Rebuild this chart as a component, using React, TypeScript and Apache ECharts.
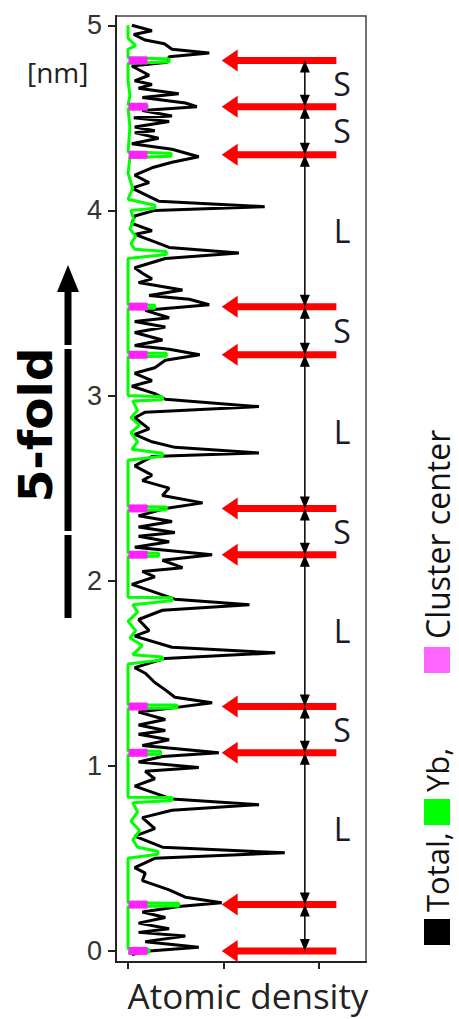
import React, { useEffect, useRef } from 'react';
import * as echarts from 'echarts';

// ---------- data ----------
const yTicks = [0, 1, 2, 3, 4, 5];
const xTicks = [0, 1, 2];
// heights (nm) of cluster centres (pink marks / red arrows)
const clusterHeights = [0, 0.25, 1.07, 1.32, 2.14, 2.39, 3.22, 3.48, 4.3, 4.56, 4.81];
// labels of the spacing between consecutive cluster centres
const spacingLabels = ['', 'L', 'S', 'L', 'S', 'L', 'S', 'L', 'S', 'S'];

// Total atomic density profile: [density, height(nm)]
const totalProfile: [number, number][] = [
  [0.04, 5.0], [0.25, 4.97], [0.06, 4.95], [0.18, 4.92], [0.38, 4.9], [0.46, 4.87], [0.85, 4.85], [0.43, 4.83],
  [0.41, 4.8], [0.04, 4.78], [0.22, 4.73], [0.07, 4.7], [0.25, 4.68], [0.11, 4.66], [0.53, 4.63], [0.15, 4.61],
  [0.6, 4.58], [0.72, 4.56], [0.15, 4.54], [0.46, 4.51], [0.06, 4.5], [0.43, 4.48], [0.07, 4.45], [0.28, 4.43],
  [0.07, 4.42], [0.32, 4.39], [0.04, 4.36], [0.46, 4.33], [0.74, 4.29], [0.46, 4.26], [0.25, 4.23], [0.07, 4.19],
  [0.22, 4.15], [0.04, 4.12], [0.32, 4.05], [1.43, 4.02], [0.28, 4.0], [0.07, 3.97], [0.04, 3.93], [0.25, 3.89],
  [0.07, 3.87], [0.28, 3.83], [0.43, 3.8], [1.16, 3.77], [0.39, 3.74], [0.07, 3.69], [0.15, 3.66], [0.25, 3.63],
  [0.11, 3.61], [0.57, 3.57], [0.22, 3.54], [0.64, 3.52], [0.85, 3.49], [0.18, 3.46], [0.43, 3.42], [0.07, 3.4],
  [0.39, 3.37], [0.07, 3.34], [0.36, 3.3], [0.07, 3.27], [0.43, 3.25], [0.75, 3.22], [0.39, 3.19], [0.28, 3.15],
  [0.07, 3.12], [0.25, 3.08], [0.04, 3.05], [0.28, 3.01], [0.39, 2.98], [1.37, 2.94], [0.18, 2.91], [0.07, 2.88],
  [0.22, 2.82], [0.07, 2.79], [0.25, 2.75], [0.49, 2.72], [1.37, 2.69], [0.25, 2.67], [0.07, 2.62], [0.25, 2.57],
  [0.15, 2.54], [0.43, 2.5], [0.36, 2.46], [0.78, 2.42], [0.39, 2.39], [0.11, 2.35], [0.46, 2.32], [0.11, 2.29],
  [0.49, 2.26], [0.11, 2.24], [0.43, 2.21], [0.07, 2.18], [0.88, 2.14], [0.36, 2.11], [0.57, 2.07], [0.15, 2.05],
  [0.28, 2.02], [0.04, 1.98], [0.49, 1.9], [1.27, 1.87], [0.36, 1.84], [0.11, 1.79], [0.22, 1.73], [0.07, 1.7],
  [0.46, 1.64], [1.54, 1.61], [0.39, 1.58], [0.07, 1.53], [0.18, 1.5], [0.28, 1.45], [0.39, 1.41], [0.49, 1.37],
  [0.88, 1.34], [0.43, 1.31], [0.11, 1.29], [0.39, 1.25], [0.11, 1.22], [0.39, 1.19], [0.11, 1.17], [0.43, 1.14],
  [0.15, 1.11], [0.95, 1.07], [0.36, 1.05], [0.11, 1.02], [0.74, 0.99], [0.18, 0.97], [0.28, 0.93], [0.07, 0.89],
  [0.46, 0.82], [1.37, 0.79], [0.46, 0.76], [0.15, 0.72], [0.28, 0.66], [0.07, 0.62], [0.36, 0.56], [1.64, 0.53],
  [0.28, 0.5], [0.07, 0.45], [0.18, 0.42], [0.15, 0.38], [0.43, 0.33], [0.6, 0.29], [0.98, 0.26], [0.53, 0.24],
  [0.15, 0.21], [0.39, 0.18], [0.11, 0.15], [0.43, 0.12], [0.11, 0.1], [0.6, 0.08], [0.18, 0.05], [0.74, 0.02],
  [0.22, 0.0], [0.04, -0.02],
];

// Yb density profile: [density, height(nm)]
const ybProfile: [number, number][] = [
  [0.0, 5.0], [0.0, 4.93], [0.08, 4.89], [0.0, 4.87], [0.0, 4.825], [0.43, 4.818], [0.43, 4.802], [0.0, 4.795],
  [0.0, 4.7], [0.02, 4.62], [0.0, 4.57], [0.2, 4.568], [0.2, 4.552], [0.0, 4.55], [0.02, 4.45], [0.0, 4.315],
  [0.45, 4.308], [0.45, 4.292], [0.02, 4.285], [0.0, 4.2], [0.05, 4.12], [0.0, 4.06], [0.28, 4.028], [0.28, 4.012],
  [0.03, 4.0], [0.06, 3.95], [0.02, 3.9], [0.08, 3.86], [0.03, 3.82], [0.07, 3.79], [0.4, 3.778], [0.4, 3.762],
  [0.0, 3.74], [0.0, 3.6], [0.0, 3.49], [0.28, 3.488], [0.28, 3.472], [0.0, 3.47], [0.0, 3.23], [0.4, 3.228],
  [0.4, 3.212], [0.0, 3.21], [0.0, 3.0], [0.36, 2.993], [0.36, 2.977], [0.05, 2.97], [0.1, 2.92], [0.03, 2.88],
  [0.12, 2.84], [0.03, 2.8], [0.1, 2.75], [0.04, 2.71], [0.36, 2.688], [0.36, 2.672], [0.0, 2.65], [0.0, 2.4],
  [0.4, 2.398], [0.4, 2.382], [0.0, 2.38], [0.0, 2.15], [0.32, 2.148], [0.32, 2.132], [0.0, 2.13], [0.0, 1.91],
  [0.46, 1.908], [0.46, 1.892], [0.05, 1.87], [0.1, 1.83], [0.0, 1.78], [0.08, 1.73], [0.02, 1.69], [0.15, 1.65],
  [0.05, 1.6], [0.36, 1.588], [0.36, 1.572], [0.0, 1.55], [0.0, 1.33], [0.51, 1.328], [0.51, 1.312], [0.0, 1.31],
  [0.0, 1.08], [0.34, 1.078], [0.34, 1.062], [0.0, 1.06], [0.0, 0.83], [0.46, 0.828], [0.46, 0.812], [0.05, 0.8],
  [0.1, 0.75], [0.03, 0.7], [0.12, 0.65], [0.05, 0.6], [0.1, 0.56], [0.31, 0.538], [0.31, 0.522], [0.0, 0.5],
  [0.0, 0.26], [0.53, 0.258], [0.53, 0.242], [0.0, 0.24], [0.0, 0.01], [0.22, 0.008], [0.22, -0.008], [0.0, -0.01],
];

// ---------- layout constants ----------
const ARROW_TAIL_X = 2.18;
const ARROW_TIP_X = 0.98;
const SPAN_X = 1.85;
const SPAN_LABEL_X = 2.24;
const CLUSTER_MARK_X = 0.105;

const option: any = {
  animation: false,
  backgroundColor: '#ffffff',
  grid: {
    left: 116, right: 93, top: 16, bottom: 57,
    show: true, borderColor: '#444', borderWidth: 1.5, backgroundColor: 'transparent',
  },
  xAxis: {
    type: 'value', min: -0.126, max: 2.49,
    splitLine: { show: false },
    axisLine: { show: true, onZero: false, lineStyle: { color: '#222', width: 2 } },
    axisTick: { show: true, length: 7, lineStyle: { color: '#222', width: 2 }, customValues: xTicks },
    axisLabel: { show: false },
    name: 'Atomic density', nameLocation: 'middle', nameGap: 14,
    nameTextStyle: { fontSize: 35, lineHeight: 38, fontFamily: 'Open Sans', color: '#222', verticalAlign: 'top', padding: [0, 0, 0, 14] },
  },
  yAxis: {
    type: 'value', min: -0.06, max: 5.05,
    splitLine: { show: false },
    axisLine: { show: true, onZero: false, lineStyle: { color: '#222', width: 2 } },
    axisTick: { show: true, length: 8, lineStyle: { color: '#222', width: 2 }, customValues: yTicks },
    axisLabel: { customValues: yTicks, fontSize: 27, fontFamily: 'Liberation Sans', color: '#333', margin: 14 },
  },
  series: [
    {
      type: 'line', data: totalProfile, showSymbol: false, symbol: 'none', clip: false,
      lineStyle: { color: '#000', width: 3 }, z: 2,
    },
    {
      type: 'line', data: ybProfile, showSymbol: false, symbol: 'none', clip: false,
      lineStyle: { color: '#00ff00', width: 3 }, z: 3,
    },
    {
      type: 'scatter', data: clusterHeights.map((h) => [CLUSTER_MARK_X, h]),
      symbol: 'rect', symbolSize: [19, 8], itemStyle: { color: '#ff22ff', opacity: 1 }, z: 4,
    },
    {
      type: 'custom', z: 5,
      data: clusterHeights.map((h) => [ARROW_TAIL_X, h, ARROW_TIP_X]),
      encode: { x: [0, 2], y: 1 },
      renderItem: (params: any, api: any) => {
        const h = api.value(1);
        const tail = api.coord([api.value(0), h]);
        const tip = api.coord([api.value(2), h]);
        const headL = 16, headH = 11;
        return {
          type: 'group',
          children: [
            { type: 'line', shape: { x1: tip[0] + headL - 1, y1: tip[1], x2: tail[0], y2: tail[1] }, style: { stroke: '#ff0000', lineWidth: 7 } },
            { type: 'polygon', shape: { points: [[tip[0], tip[1]], [tip[0] + headL, tip[1] - headH], [tip[0] + headL, tip[1] + headH]] }, style: { fill: '#ff0000' } },
          ],
        };
      },
    },
    {
      type: 'custom', z: 6,
      data: clusterHeights.slice(0, -1).map((h, i) => [SPAN_X, h, clusterHeights[i + 1], SPAN_LABEL_X, i]),
      encode: { x: [0, 3], y: [1, 2] },
      renderItem: (params: any, api: any) => {
        const lo = api.coord([api.value(0), api.value(1)]);
        const hi = api.coord([api.value(0), api.value(2)]);
        const lab = api.coord([api.value(3), (api.value(1) + api.value(2)) / 2]);
        const label = spacingLabels[api.value(4)];
        const w = 5, th = 12;
        const x = lo[0];
        return {
          type: 'group',
          children: [
            { type: 'line', shape: { x1: x, y1: hi[1] + 4, x2: x, y2: lo[1] - 4 }, style: { stroke: '#000', lineWidth: 1.5 } },
            { type: 'polygon', shape: { points: [[x, hi[1]], [x - w, hi[1] + th], [x + w, hi[1] + th]] }, style: { fill: '#000' } },
            { type: 'polygon', shape: { points: [[x, lo[1]], [x - w, lo[1] - th], [x + w, lo[1] - th]] }, style: { fill: '#000' } },
            { type: 'text', x: lab[0], y: lab[1], style: { text: label, fontSize: 32, fontFamily: 'Open Sans', fill: '#1a1a2a', align: 'center', verticalAlign: 'middle' } },
          ],
        };
      },
    },
  ],
  graphic: [
    { type: 'text', left: 27, top: 58, style: { text: '[nm]', fontSize: 28, fontFamily: 'Open Sans', fill: '#222' } },
    // 5-fold arrow
    { type: 'line', shape: { x1: 68, y1: 290, x2: 68, y2: 345 }, style: { stroke: '#000', lineWidth: 7 } },
    { type: 'line', shape: { x1: 68, y1: 349, x2: 68, y2: 531 }, style: { stroke: '#000', lineWidth: 7 } },
    { type: 'line', shape: { x1: 68, y1: 535, x2: 68, y2: 618 }, style: { stroke: '#000', lineWidth: 7 } },
    { type: 'polygon', shape: { points: [[68, 265], [57, 292], [79, 292]] }, style: { fill: '#000' } },
    {
      type: 'text', x: 35, y: 425, rotation: Math.PI / 2,
      style: { text: '5-fold', fontSize: 47, fontWeight: 'bold', fontFamily: 'DejaVu Sans', fill: '#000', align: 'center', verticalAlign: 'middle' },
    },
    // rotated legend
    {
      type: 'group', x: 437, y: 945, rotation: Math.PI / 2,
      children: [
        { type: 'rect', shape: { x: 0, y: -13, width: 26, height: 26 }, style: { fill: '#000' } },
        { type: 'text', x: 33, y: 0, style: { text: 'Total,', fontSize: 31, fontFamily: 'Open Sans', fill: '#111', verticalAlign: 'middle' } },
        { type: 'rect', shape: { x: 120, y: -13, width: 26, height: 26 }, style: { fill: '#00ff00' } },
        { type: 'text', x: 153, y: 0, style: { text: 'Yb,', fontSize: 31, fontFamily: 'Open Sans', fill: '#111', verticalAlign: 'middle' } },
        { type: 'rect', shape: { x: 272, y: -13, width: 26, height: 26 }, style: { fill: '#ff66ff' } },
        { type: 'text', x: 306, y: 0, style: { text: 'Cluster center', fontSize: 32, fontFamily: 'Open Sans', fill: '#111', verticalAlign: 'middle' } },
      ],
    },
  ],
};

export default function App() {
  const ref = useRef<HTMLDivElement>(null);
  useEffect(() => {
    if (!ref.current) return;
    const chart = echarts.init(ref.current, null, { renderer: 'svg' });
    chart.setOption(option);
    return () => chart.dispose();
  }, []);
  return <div ref={ref} style={{ position: 'absolute', left: 0, top: 0, width: 459, height: 1019 }} />;
}
